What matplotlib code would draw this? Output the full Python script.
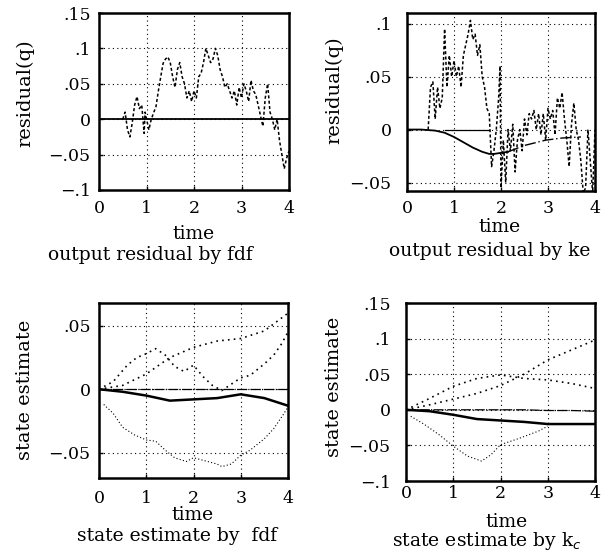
import numpy as np
import matplotlib
matplotlib.use('Agg')
import matplotlib.pyplot as plt

plt.rcParams['font.family'] = ['DejaVu Serif']
plt.rcParams['font.size'] = 12.5

# ---- data ----

# top left: output residual by fdf
t_res_fdf = [0.5, 0.55, 0.6, 0.65, 0.7, 0.75, 0.8, 0.85, 0.9, 0.95, 0.97, 1.05, 1.1,
             1.2, 1.25, 1.3, 1.35, 1.4, 1.45, 1.5, 1.55, 1.6, 1.65, 1.7, 1.75, 1.8,
             1.85, 1.9, 1.95, 2.0, 2.05, 2.1, 2.15, 2.2, 2.25, 2.3, 2.35, 2.4, 2.45,
             2.5, 2.55, 2.6, 2.65, 2.7, 2.75, 2.8, 2.85, 2.9, 2.95, 3.0, 3.05, 3.1,
             3.15, 3.2, 3.25, 3.3, 3.35, 3.4, 3.45, 3.5, 3.55, 3.6, 3.65, 3.7, 3.75,
             3.8, 3.85, 3.9, 3.95, 4.0]
res_fdf = [0.0, 0.01, -0.015, -0.025, -0.005, 0.02, 0.032, 0.015, 0.02, -0.02, 0.01,
           -0.015, 0.0, 0.018, 0.04, 0.06, 0.079, 0.085, 0.088, 0.08, 0.06, 0.045,
           0.07, 0.08, 0.06, 0.05, 0.03, 0.04, 0.025, 0.04, 0.03, 0.06, 0.065, 0.08,
           0.1, 0.09, 0.08, 0.085, 0.1, 0.09, 0.07, 0.06, 0.045, 0.05, 0.04, 0.03,
           0.04, 0.02, 0.045, 0.03, 0.05, 0.04, 0.025, 0.055, 0.04, 0.035, 0.02,
           0.005, -0.01, 0.03, 0.05, 0.01, 0.0, -0.015, 0.0, -0.03, -0.05, -0.07,
           -0.055, -0.045]
t_zero = [0, 4]
zero_line = [0, 0]

# top right: output residual by ke
t_res_ke = [0.45, 0.5, 0.55, 0.6, 0.65, 0.7, 0.75, 0.8, 0.85, 0.9, 0.95, 1.0, 1.05,
            1.1, 1.15, 1.2, 1.25, 1.3, 1.35, 1.4, 1.45, 1.5, 1.55, 1.6, 1.65, 1.7,
            1.75, 1.8, 1.85, 1.9, 1.95, 1.98, 2.0, 2.05, 2.1, 2.15, 2.2, 2.25, 2.3,
            2.35, 2.4, 2.45, 2.5, 2.55, 2.6, 2.65, 2.7, 2.75, 2.8, 2.85, 2.9, 2.95,
            3.0, 3.05, 3.1, 3.15, 3.2, 3.25, 3.3, 3.35, 3.4, 3.45, 3.5, 3.55, 3.6,
            3.65, 3.7, 3.75, 3.8, 3.85, 3.9, 3.95, 4.0]
res_ke = [0.0, 0.04, 0.045, 0.01, 0.04, 0.02, 0.03, 0.095, 0.04, 0.07, 0.05, 0.065,
          0.05, 0.06, 0.04, 0.07, 0.08, 0.09, 0.103, 0.085, 0.09, 0.07, 0.08, 0.05,
          0.04, 0.02, 0.015, -0.035, -0.02, 0.0, 0.03, 0.06, -0.055, -0.01, -0.05,
          0.0, -0.02, 0.005, -0.04, -0.01, 0.0, -0.02, 0.01, -0.005, 0.015, 0.01,
          0.018, 0.0, 0.015, -0.005, 0.015, -0.01, 0.02, 0.01, 0.018, -0.005, 0.03,
          0.02, 0.035, 0.01, -0.01, -0.035, 0.005, 0.025, 0.0, -0.01, -0.03, -0.06,
          -0.055, 0.0, -0.03, -0.06, 0.0]
t_ke_solid = [0, 0.3, 0.6, 0.8, 1.0, 1.2, 1.4, 1.6, 1.75, 1.85, 2.0, 2.15]
ke_solid = [0, 0, -0.001, -0.003, -0.007, -0.012, -0.017, -0.021, -0.023, -0.023,
            -0.022, -0.021]
t_ke_dashdot = [2.15, 2.5, 2.95, 3.3, 3.7]
ke_dashdot = [-0.021, -0.015, -0.01, -0.008, -0.007]
t_ke_zero = [0.8, 1.75]
ke_zero = [0, 0]

# bottom left: state estimate by fdf
t_se = [0, 0.5, 1.0, 1.5, 2.0, 2.5, 3.0, 3.5, 4.0]
se_fdf_solid = [0, -0.002, -0.005, -0.009, -0.008, -0.007, -0.004, -0.007, -0.013]
se_fdf_rise = [0, 0.003, 0.012, 0.025, 0.033, 0.038, 0.040, 0.046, 0.06]
t_se_hump = [0, 0.3, 0.6, 0.8, 1.0, 1.2, 1.4, 1.6, 1.8, 2.0, 2.2, 2.4, 2.6, 2.8,
             3.0, 3.2, 3.5, 3.7, 3.85, 4.0]
se_fdf_hump = [0, 0.006, 0.019, 0.025, 0.028, 0.032, 0.027, 0.018, 0.014, 0.019,
               0.01, 0.003, -0.001, 0.004, 0.009, 0.011, 0.02, 0.027, 0.035, 0.045]
t_se_low = [0.1, 0.3, 0.5, 0.75, 1.0, 1.2, 1.4, 1.6, 1.85, 2.0, 2.2, 2.5, 2.6, 2.8,
            3.0, 3.2, 3.5, 3.7, 3.9, 4.0]
se_fdf_low = [-0.012, -0.019, -0.03, -0.036, -0.04, -0.041, -0.048, -0.054, -0.057,
              -0.054, -0.056, -0.059, -0.061, -0.059, -0.052, -0.048, -0.039, -0.031,
              -0.02, -0.014]

# bottom right: state estimate by kc
se_kc_solid = [0, -0.002, -0.007, -0.013, -0.015, -0.017, -0.02, -0.02, -0.02]
se_kc_zero = [0, 0, 0, 0, 0, 0, -0.001, -0.001, -0.002]
se_kc_hump = [0, 0.016, 0.033, 0.044, 0.049, 0.044, 0.042, 0.037, 0.03]
se_kc_rise = [0, 0.007, 0.015, 0.023, 0.034, 0.05, 0.07, 0.084, 0.098]
t_kc_low = [0.1, 0.4, 0.7, 1.0, 1.3, 1.6, 1.8, 2.0, 2.4, 2.8, 3.0]
se_kc_low = [-0.009, -0.021, -0.035, -0.051, -0.065, -0.072, -0.063, -0.049, -0.04,
             -0.03, -0.023]

x_ticks = [0, 1, 2, 3, 4]


def fmt(v):
    if v == 0:
        return '0'
    s = ('%g' % abs(v)).lstrip('0')
    return ('\u2212' if v < 0 else '') + s


def setup(ax, ylim, yticks, xpad, ypad):
    ax.set_xlim(0, 4)
    ax.set_ylim(*ylim)
    ax.set_xticks(x_ticks)
    ax.set_xticklabels([str(x) for x in x_ticks])
    ax.set_yticks(yticks)
    ax.set_yticklabels([fmt(v) for v in yticks])
    ax.tick_params(direction='in', length=3, width=1)
    ax.tick_params(axis='x', pad=xpad)
    ax.tick_params(axis='y', pad=ypad)
    ax.grid(True, color='black', linestyle=(0, (1, 3)), linewidth=0.8)
    for s in ax.spines.values():
        s.set_linewidth(1.8)


W, H = 603, 559
fig = plt.figure(figsize=(W / 100, H / 100), dpi=100)


def add_ax(x0, y0, x1, y1):
    return fig.add_axes([x0 / W, 1 - y1 / H, (x1 - x0) / W, (y1 - y0) / H])


def ftext(x, y, s, size=13.5, **kw):
    fig.text(x / W, 1 - y / H, s, ha='center', va='baseline', fontsize=size, **kw)


def ylab(x, y, s):
    fig.text(x / W, 1 - y / H, s, ha='center', va='center', rotation=90, fontsize=14)


dash = dict(color='black', linestyle=(0, (2, 1.5)), linewidth=1.1)
dot = dict(color='black', linestyle=(0, (1, 2.5)), linewidth=1.2)
fine = dict(color='black', linestyle=(0, (1, 2)), linewidth=0.8)

# top left
ax1 = add_ax(99, 13, 289, 190)
setup(ax1, (-0.1, 0.15), [-0.1, -0.05, 0, 0.05, 0.1, 0.15], 7, 6)
ax1.plot(t_zero, zero_line, color='black', linewidth=1.3)
ax1.plot(t_res_fdf, res_fdf, **dash)
ftext(194, 239, 'time')
ftext(150, 260, 'output residual by fdf')
ylab(25, 93, 'residual(q)')

# top right
ax2 = add_ax(407, 13, 595, 191)
setup(ax2, (-0.058, 0.11), [-0.05, 0, 0.05, 0.1], 6.5, 11)
ax2.plot(t_ke_solid, ke_solid, color='black', linewidth=1.3)
ax2.plot(t_ke_dashdot, ke_dashdot, color='black', linewidth=1.0,
         linestyle=(0, (8, 2, 1, 2)))
ax2.plot(t_ke_zero, ke_zero, color='black', linewidth=0.9)
ax2.plot(t_res_ke, res_ke, **dash)
ftext(500, 232, 'time')
ftext(490, 256, 'output residual by ke')
ylab(334, 90, 'residual(q)')

# bottom left
ax3 = add_ax(99, 303, 288, 478)
setup(ax3, (-0.07, 0.068), [-0.05, 0, 0.05], 8.5, 6)
ax3.plot(t_zero, zero_line, color='black', linewidth=0.9, linestyle=(0, (8, 1, 1, 1)))
ax3.plot(t_se, se_fdf_solid, color='black', linewidth=1.8)
ax3.plot(t_se, se_fdf_rise, **dot)
ax3.plot(t_se_hump, se_fdf_hump, **dot)
ax3.plot(t_se_low, se_fdf_low, **fine)
ftext(193, 520, 'time')
ftext(177, 541, 'state estimate by  fdf')
ylab(25, 390, 'state estimate')

# bottom right
ax4 = add_ax(406, 303, 595, 481)
setup(ax4, (-0.1, 0.15), [-0.1, -0.05, 0, 0.05, 0.1, 0.15], 3, 11)
ax4.plot(t_se, se_kc_zero, color='black', linewidth=0.9, linestyle=(0, (8, 1, 1, 1)))
ax4.plot(t_se, se_kc_solid, color='black', linewidth=1.8)
ax4.plot(t_se, se_kc_hump, **dot)
ax4.plot(t_se, se_kc_rise, **dot)
ax4.plot(t_kc_low, se_kc_low, **fine)
ftext(507, 527, 'time')
ftext(487, 546, 'state estimate by k$_c$')
ylab(334, 387, 'state estimate')

fig.savefig('out.png', dpi=100)
